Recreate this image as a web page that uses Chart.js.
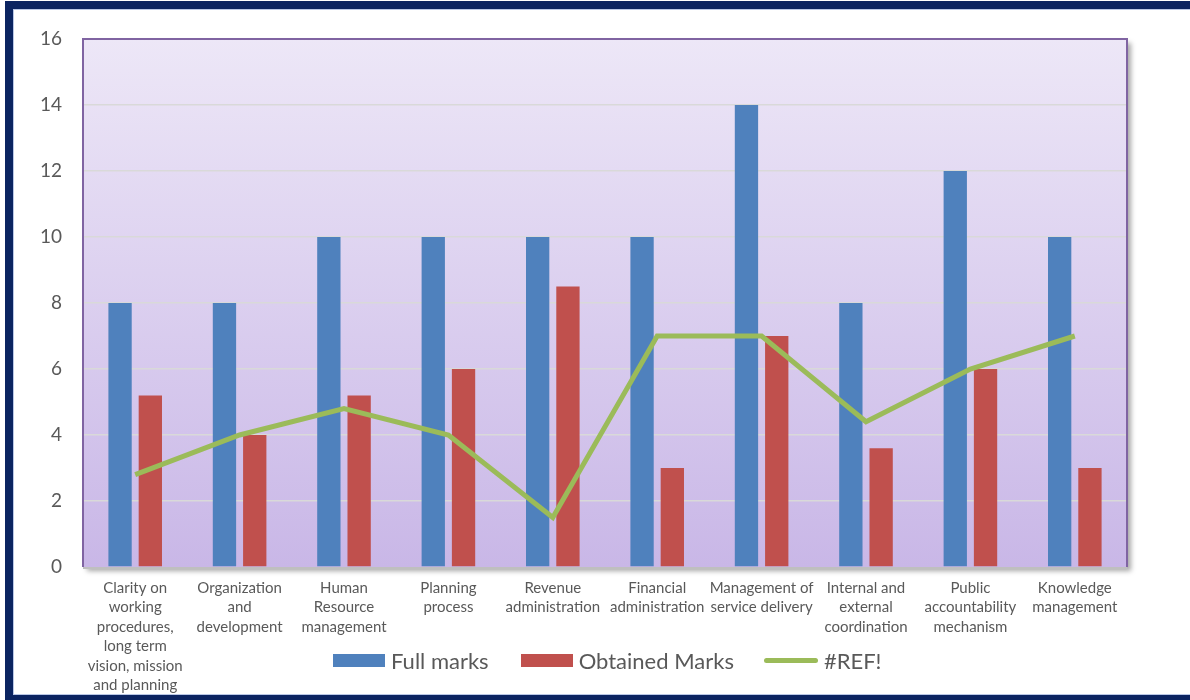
<!DOCTYPE html>
<html>
<head>
<meta charset="utf-8">
<script src="https://cdn.jsdelivr.net/npm/chart.js@4.4.1/dist/chart.umd.min.js"></script>
<style>
html,body{margin:0;padding:0;background:#ffffff;}
#wrap{width:1190px;height:700px;position:relative;overflow:hidden;}
canvas{display:block;}
#legend{position:absolute;left:333px;top:649px;height:22px;display:flex;align-items:center;
  font-family:Lato,"Open Sans","DejaVu Sans",sans-serif;font-size:22px;color:#595959;white-space:nowrap;}
#legend .item{display:flex;align-items:center;}
#legend .sw{display:inline-block;margin-right:6px;}
#legend .box{width:52px;height:13px;}
#legend .ln{width:54px;height:5px;border-radius:3px;}
</style>
</head>
<body>
<div id="wrap"><canvas id="c" width="1190" height="700"></canvas><div id="legend"></div></div>
<script>
const categories = [
  ["Clarity on", "working", "procedures,", "long term", "vision, mission", "and planning"],
  ["Organization", "and", "development"],
  ["Human", "Resource", "management"],
  ["Planning", "process"],
  ["Revenue", "administration"],
  ["Financial", "administration"],
  ["Management of", "service delivery"],
  ["Internal and", "external", "coordination"],
  ["Public", "accountability", "mechanism"],
  ["Knowledge", "management"]
];
const fullMarks = [8, 8, 10, 10, 10, 10, 14, 8, 12, 10];
const obtainedMarks = [5.2, 4, 5.2, 6, 8.5, 3, 7, 3.6, 6, 3];
const refLine = [2.8, 4, 4.8, 4, 1.5, 7, 7, 4.4, 6, 7];
const seriesNames = ["Full marks", "Obtained Marks", "#REF!"];
const yTicks = [0, 2, 4, 6, 8, 10, 12, 14, 16];

const FONT = 'Lato, "Open Sans", "DejaVu Sans", sans-serif';
const TEXT = '#595959';
const COLORS = ['#4f81bd', '#c0504d', '#9bbb59'];

const framePlugin = {
  id: 'frame',
  beforeDraw(chart) {
    const ctx = chart.ctx;
    const a = chart.chartArea;
    ctx.save();
    // outer navy frame (top, left, bottom)
    ctx.fillStyle = '#0b2461';
    ctx.fillRect(5, 1, 1190, 8);
    ctx.fillRect(5, 1, 8, 699);
    ctx.fillRect(5, 695, 1190, 5);
    ctx.fillStyle = '#b9c7e6';
    ctx.fillRect(13, 9, 1190, 1);
    ctx.fillRect(13, 9, 1, 686);
    ctx.fillRect(13, 694, 1190, 1);
    // plot shadow
    ctx.shadowColor = 'rgba(0,0,0,0.35)';
    ctx.shadowBlur = 5;
    ctx.shadowOffsetX = 4;
    ctx.shadowOffsetY = 4;
    ctx.fillStyle = '#ece6f7';
    ctx.fillRect(a.left, a.top, a.right - a.left, a.bottom - a.top);
    ctx.shadowColor = 'transparent';
    const g = ctx.createLinearGradient(0, a.top, 0, a.bottom);
    g.addColorStop(0, '#ede7f7');
    g.addColorStop(1, '#c9b7e7');
    ctx.fillStyle = g;
    ctx.fillRect(a.left, a.top, a.right - a.left, a.bottom - a.top);
    ctx.restore();
  },
  beforeDatasetsDraw(chart) {
    const ctx = chart.ctx;
    const a = chart.chartArea;
    ctx.save();
    ctx.strokeStyle = '#8064a2';
    ctx.lineWidth = 2;
    ctx.beginPath();
    ctx.moveTo(a.left, a.bottom);
    ctx.lineTo(a.left, a.top);
    ctx.lineTo(a.right, a.top);
    ctx.lineTo(a.right, a.bottom);
    ctx.stroke();
    ctx.strokeStyle = '#bfbfbf';
    ctx.lineWidth = 2;
    ctx.beginPath();
    ctx.moveTo(a.left, a.bottom + 1);
    ctx.lineTo(a.right, a.bottom + 1);
    ctx.stroke();
    ctx.restore();
  }
};

// HTML legend
(function buildLegend() {
  const lg = document.getElementById('legend');
  seriesNames.forEach((name, i) => {
    const it = document.createElement('div');
    it.className = 'item';
    if (i > 0) it.style.marginLeft = (i === 1 ? 32 : 30) + 'px';
    const sw = document.createElement('span');
    sw.className = 'sw ' + (i === 2 ? 'ln' : 'box');
    sw.style.background = COLORS[i];
    const tx = document.createElement('span');
    tx.textContent = name;
    it.appendChild(sw);
    it.appendChild(tx);
    lg.appendChild(it);
  });
})();

new Chart(document.getElementById('c'), {
  type: 'bar',
  data: {
    labels: categories,
    datasets: [
      {
        type: 'bar',
        label: seriesNames[0],
        data: fullMarks,
        backgroundColor: COLORS[0],
        borderWidth: 0,
        barPercentage: 0.77,
        categoryPercentage: 0.58,
        order: 1
      },
      {
        type: 'bar',
        label: seriesNames[1],
        data: obtainedMarks,
        backgroundColor: COLORS[1],
        borderWidth: 0,
        barPercentage: 0.77,
        categoryPercentage: 0.58,
        order: 1
      },
      {
        type: 'line',
        label: seriesNames[2],
        data: refLine,
        borderColor: COLORS[2],
        backgroundColor: COLORS[2],
        borderWidth: 5,
        pointRadius: 0,
        tension: 0,
        fill: false,
        order: 0
      }
    ]
  },
  options: {
    responsive: false,
    animation: false,
    devicePixelRatio: 1,
    layout: { padding: { left: 13, right: 63, top: 39, bottom: 0 } },
    plugins: {
      tooltip: { enabled: false },
      legend: { display: false }
    },
    scales: {
      x: {
        grid: { display: false, drawTicks: false },
        border: { display: false },
        ticks: {
          color: TEXT,
          font: { family: FONT, size: 15, lineHeight: 1.3 },
          maxRotation: 0,
          autoSkip: false,
          padding: 11
        },
        afterFit(scale) { scale.height = 133; }
      },
      y: {
        min: yTicks[0],
        max: yTicks[yTicks.length - 1],
        afterBuildTicks(scale) { scale.ticks = yTicks.map(v => ({ value: v })); },
        grid: {
          drawTicks: false,
          color: ctx => (ctx.tick && (ctx.tick.value === 0 || ctx.tick.value === 16)) ? 'rgba(0,0,0,0)' : '#d9d9d9',
          lineWidth: 1.5
        },
        border: { display: false },
        ticks: {
          color: TEXT,
          font: { family: FONT, size: 19 },
          padding: 21
        },
        afterFit(scale) { scale.width = 70; }
      }
    }
  },
  plugins: [framePlugin]
});
</script>
</body>
</html>
